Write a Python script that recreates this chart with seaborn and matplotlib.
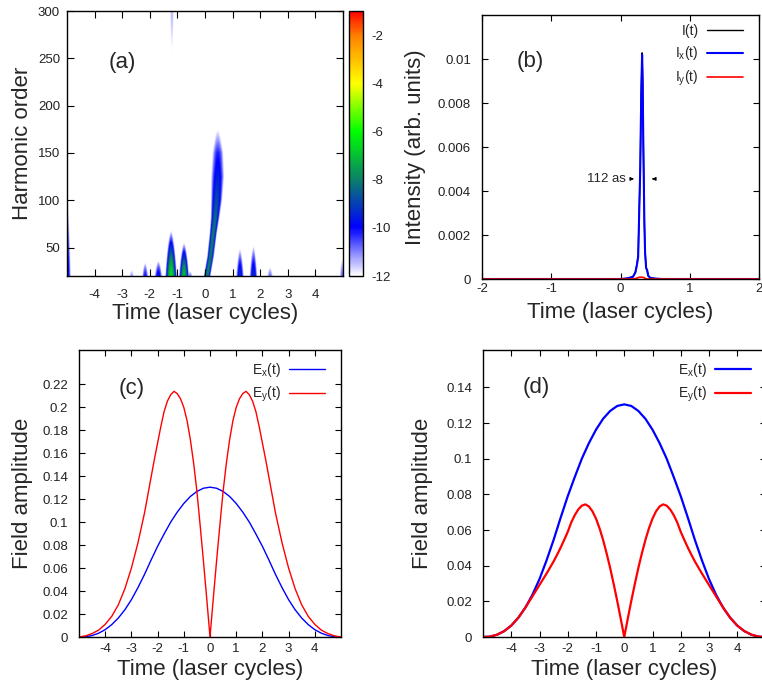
import numpy as np
import matplotlib
matplotlib.use('Agg')
import matplotlib.pyplot as plt
import seaborn as sns
from matplotlib.colors import LinearSegmentedColormap
from matplotlib.ticker import FuncFormatter

# ---- panel (a): time-frequency map, bursts
burst_t = [-5.0, -2.66, -2.17, -1.69, -1.23, -0.76, -0.54, 1.27, 1.76, 2.36, 4.98]
burst_top = [100, 26, 34, 36, 68, 55, 25, 49, 52, 29, 38]
burst_peak = [-9.5, -11.2, -10.1, -9.7, -6.5, -7.0, -11.0, -9.3, -9.3, -10.9, -10.8]
burst_w = [0.14, 0.10, 0.12, 0.15, 0.22, 0.19, 0.10, 0.15, 0.15, 0.12, 0.10]

# main slanted streak (centre path, log intensity, half width)
main_t = [0.08, 0.20, 0.30, 0.37, 0.42, 0.46, 0.47, 0.46]
main_h = [20, 40, 65, 82, 100, 125, 150, 175]
main_v = [-7.8, -8.0, -8.0, -8.3, -8.8, -9.5, -10.2, -12.0]
main_w = [0.13, 0.13, 0.14, 0.17, 0.22, 0.26, 0.22, 0.10]

# faint trace hanging from the top edge
top_t, top_base, top_tip, top_peak, top_w = -1.2, 300, 255, -11.4, 0.09

a_xticks = [-4, -3, -2, -1, 0, 1, 2, 3, 4]
a_yticks = [50, 100, 150, 200, 250, 300]
cb_ticks = [-12, -10, -8, -6, -4, -2]

# ---- panel (b): attosecond pulse intensity
b_time = [-2.0, 0.0, 0.10, 0.18, 0.215, 0.235, 0.255, 0.27, 0.285, 0.30, 0.312, 0.32,
          0.33, 0.345, 0.355, 0.37, 0.385, 0.40, 0.43, 0.50, 0.60, 2.0]
b_ix = [0, 0, 0.00003, 0.0001, 0.0003, 0.0006, 0.0010, 0.0030, 0.0050, 0.0085, 0.0102, 0.0090,
        0.0060, 0.0025, 0.0012, 0.0005, 0.0004, 0.00015, 0.00005, 0.00002, 0, 0]
b_iy = [0, 0, 0, 0, 0.00002, 0.00004, 0.00006, 0.00008, 0.00008, 0.00008, 0.00008, 0.00008,
        0.00007, 0.00005, 0.00003, 0.00001, 0, 0, 0, 0, 0, 0]
b_itot = [0, 0, 0.00003, 0.0001, 0.00032, 0.00064, 0.00106, 0.00308, 0.00508, 0.00858, 0.01028, 0.00908,
          0.00607, 0.00255, 0.00123, 0.00051, 0.0004, 0.00015, 0.00005, 0.00002, 0, 0]
b_xticks = [-2, -1, 0, 1, 2]
b_yticks = [0, 0.002, 0.004, 0.006, 0.008, 0.01]

# ---- panels (c) and (d): field envelopes
ex_t = [-5.0, -4.75, -4.5, -4.25, -4.0, -3.75, -3.5, -3.25, -3.0, -2.75, -2.5, -2.25, -2.0,
        -1.75, -1.5, -1.25, -1.0, -0.75, -0.5, -0.25, 0.0, 0.25, 0.5, 0.75, 1.0, 1.25, 1.5,
        1.75, 2.0, 2.25, 2.5, 2.75, 3.0, 3.25, 3.5, 3.75, 4.0, 4.25, 4.5, 4.75, 5.0]
ex_vals = [0.0, 0.0002, 0.0013, 0.0033, 0.0064, 0.0108, 0.0165, 0.0237, 0.0325, 0.0430, 0.0545,
           0.0670, 0.0790, 0.0898, 0.1001, 0.1088, 0.1163, 0.1224, 0.1268, 0.1296, 0.1305,
           0.1296, 0.1268, 0.1224, 0.1163, 0.1088, 0.1001, 0.0898, 0.0790, 0.0670, 0.0545,
           0.0430, 0.0325, 0.0237, 0.0165, 0.0108, 0.0064, 0.0033, 0.0013, 0.0002, 0.0]

ey_t = [-5.0, -4.75, -4.5, -4.25, -4.0, -3.75, -3.5, -3.25, -3.0, -2.75, -2.5, -2.375, -2.25,
        -2.125, -2.0, -1.875, -1.75, -1.625, -1.5, -1.375, -1.25, -1.125, -1.0, -0.875, -0.75,
        -0.625, -0.5, -0.375, -0.25, -0.125, 0.0, 0.125, 0.25, 0.375, 0.5, 0.625, 0.75, 0.875,
        1.0, 1.125, 1.25, 1.375, 1.5, 1.625, 1.75, 1.875, 2.0, 2.125, 2.25, 2.375, 2.5, 2.75,
        3.0, 3.25, 3.5, 3.75, 4.0, 4.25, 4.5, 4.75, 5.0]
ey_c = [0.0, 0.001, 0.003, 0.006, 0.011, 0.018, 0.028, 0.042, 0.060, 0.082, 0.108, 0.1235, 0.139,
        0.1545, 0.169, 0.1835, 0.1965, 0.2055, 0.211, 0.214, 0.212, 0.2075, 0.200, 0.1885, 0.172,
        0.1515, 0.127, 0.097, 0.066, 0.0335, 0.0, 0.0335, 0.066, 0.097, 0.127, 0.1515, 0.172,
        0.1885, 0.200, 0.2075, 0.212, 0.214, 0.211, 0.2055, 0.1965, 0.1835, 0.169, 0.1545, 0.139,
        0.1235, 0.108, 0.082, 0.060, 0.042, 0.028, 0.018, 0.011, 0.006, 0.003, 0.001, 0.0]
ey_d = [0.0, 0.0002, 0.0013, 0.0033, 0.0064, 0.0108, 0.0165, 0.0228, 0.0292, 0.0356, 0.0424,
        0.0462, 0.0502, 0.0545, 0.0590, 0.0643, 0.0684, 0.0716, 0.0737, 0.0744, 0.0732, 0.0705,
        0.0664, 0.0610, 0.0545, 0.0470, 0.0388, 0.0298, 0.0203, 0.0103, 0.0, 0.0103, 0.0203,
        0.0298, 0.0388, 0.0470, 0.0545, 0.0610, 0.0664, 0.0705, 0.0732, 0.0744, 0.0737, 0.0716,
        0.0684, 0.0643, 0.0590, 0.0545, 0.0502, 0.0462, 0.0424, 0.0356, 0.0292, 0.0228, 0.0165,
        0.0108, 0.0064, 0.0033, 0.0013, 0.0002, 0.0]
t_ticks = [-4, -3, -2, -1, 0, 1, 2, 3, 4]
c_yticks = [0, 0.02, 0.04, 0.06, 0.08, 0.1, 0.12, 0.14, 0.16, 0.18, 0.2, 0.22]
d_yticks = [0, 0.02, 0.04, 0.06, 0.08, 0.1, 0.12, 0.14]

sns.set_theme(style='ticks')
plt.rcParams['font.family'] = ['Liberation Sans', 'DejaVu Sans']
plt.rcParams['mathtext.default'] = 'regular'
plt.rcParams['axes.unicode_minus'] = False

W, H = 762, 690
fig = plt.figure(figsize=(W / 100, H / 100), dpi=100)
fig.patch.set_facecolor('white')


def box(l, t, w, h):
    return [l / W, 1 - (t + h) / H, w / W, h / H]


fmt = FuncFormatter(lambda v, p: f"{v:g}")
TICK = 9.5
LAB = 16


def style(ax, xpad, ypad, tlen=4):
    ax.set_facecolor('white')
    for s in ax.spines.values():
        s.set_color('black')
        s.set_linewidth(1.0)
    ax.tick_params(direction='in', top=True, right=True, length=tlen, width=0.8,
                   labelsize=TICK, colors='black', labelcolor='#222222')
    ax.tick_params(axis='x', pad=xpad)
    ax.tick_params(axis='y', pad=ypad)
    ax.xaxis.set_major_formatter(fmt)
    ax.yaxis.set_major_formatter(fmt)
    ax.grid(False)


def legend(ax, x, y):
    ax.legend(loc='upper right', bbox_to_anchor=(x, y), frameon=False, markerfirst=False,
              fontsize=10, handlelength=2.6, handletextpad=0.6, labelspacing=0.45,
              borderpad=0, borderaxespad=0)


# ---------------- (a)
tt = np.linspace(-5, 5, 601)
hh = np.linspace(20, 300, 281)
T, Hm = np.meshgrid(tt, hh)
Z = np.full(T.shape, -13.0)


def flame(tc, h0, h1, peak, w):
    frac = np.clip((Hm - h0) / (h1 - h0), 0, 1)
    v = peak + (-12 - peak) * frac ** 1.5
    half = w * np.sqrt(1 - frac) + 1e-6
    return v - (v + 12.5) * ((T - tc) / half) ** 2


for tc, top, pk, w in zip(burst_t, burst_top, burst_peak, burst_w):
    Z = np.maximum(Z, flame(tc, 20, top, pk, w))
Z = np.maximum(Z, flame(top_t, top_base, top_tip, top_peak, top_w))

mc = np.interp(hh, main_h, main_t)[:, None]
mv = np.interp(hh, main_h, main_v)[:, None]
mw = np.interp(hh, main_h, main_w)[:, None]
Z = np.maximum(Z, mv - (mv + 12.5) * ((T - mc) / mw) ** 2)

cmap = LinearSegmentedColormap.from_list('hhg', [
    (0.0, '#ffffff'), (2 / 11, '#0000ff'), (4 / 11, '#0b7f6a'), (6 / 11, '#00ff00'),
    (8 / 11, '#ffff00'), (10 / 11, '#ff8000'), (1.0, '#ff0000')])
cmap.set_under('white')

ax_a = fig.add_axes(box(67, 11, 276, 265))
im = ax_a.imshow(Z, extent=[-5, 5, 20, 300], origin='lower', aspect='auto',
                 cmap=cmap, vmin=-12, vmax=-1, interpolation='bilinear')
ax_a.set_xlim(-5, 5)
ax_a.set_ylim(20, 300)
ax_a.set_xticks(a_xticks)
ax_a.set_yticks(a_yticks)
style(ax_a, xpad=9, ypad=5, tlen=5)
ax_a.set_xlabel('Time (laser cycles)', fontsize=LAB)
ax_a.set_ylabel('Harmonic order', fontsize=LAB)
ax_a.xaxis.set_label_coords(0.5, -0.1)
ax_a.yaxis.set_label_coords(-0.123, 0.5)
ax_a.text(-3.0, 246, '(a)', fontsize=LAB, ha='center', va='center')

cax = fig.add_axes(box(349, 11, 14, 265))
cb = fig.colorbar(im, cax=cax)
cb.set_ticks(cb_ticks)
cb.ax.yaxis.set_major_formatter(fmt)
cb.outline.set_edgecolor('black')
cb.outline.set_linewidth(1.0)
cax.tick_params(direction='in', left=True, right=True, length=5, width=0.8,
                labelsize=TICK, pad=6, colors='black', labelcolor='#222222')

# ---------------- (b)
ax_b = fig.add_axes(box(482, 15, 277, 264))
sns.lineplot(x=b_time, y=b_itot, color='black', lw=1.0, label='I(t)', ax=ax_b)
sns.lineplot(x=b_time, y=b_ix, color='#0000ff', lw=1.5, label='I$_x$(t)', ax=ax_b)
sns.lineplot(x=b_time, y=b_iy, color='#ff0000', lw=1.2, label='I$_y$(t)', ax=ax_b)
ax_b.set_xlim(-2, 2)
ax_b.set_ylim(0, 0.012)
ax_b.set_xticks(b_xticks)
ax_b.set_yticks(b_yticks)
style(ax_b, xpad=3, ypad=8)
ax_b.set_xlabel('Time (laser cycles)', fontsize=LAB)
ax_b.set_ylabel('Intensity (arb. units)', fontsize=LAB)
ax_b.xaxis.set_label_coords(0.5, -0.087)
ax_b.yaxis.set_label_coords(-0.202, 0.5)
ax_b.text(-1.31, 0.0099, '(b)', fontsize=LAB, ha='center', va='center')
ax_b.text(0.08, 0.00455, '112 as', fontsize=9.5, ha='right', va='center')
ax_b.annotate('', xy=(0.235, 0.00455), xytext=(0.12, 0.00455),
              arrowprops=dict(arrowstyle='-|>', color='black', lw=0.8, mutation_scale=5))
ax_b.annotate('', xy=(0.415, 0.00455), xytext=(0.52, 0.00455),
              arrowprops=dict(arrowstyle='-|>', color='black', lw=0.8, mutation_scale=5))
legend(ax_b, 0.942, 0.965)

# ---------------- (c)
ax_c = fig.add_axes(box(79, 350, 262, 287))
sns.lineplot(x=ex_t, y=ex_vals, color='#0000ff', lw=1.0, label='E$_x$(t)', ax=ax_c)
sns.lineplot(x=ey_t, y=ey_c, color='#ff0000', lw=1.0, label='E$_y$(t)', ax=ax_c)
ax_c.set_xlim(-5, 5)
ax_c.set_ylim(0, 0.25)
ax_c.set_xticks(t_ticks)
ax_c.set_yticks(c_yticks)
style(ax_c, xpad=4, ypad=8)
ax_c.set_xlabel('Time (laser cycles)', fontsize=LAB)
ax_c.set_ylabel('Field amplitude', fontsize=LAB)
ax_c.xaxis.set_label_coords(0.5, -0.077)
ax_c.yaxis.set_label_coords(-0.176, 0.5)
ax_c.text(-2.98, 0.2167, '(c)', fontsize=LAB, ha='center', va='center')
legend(ax_c, 0.939, 0.962)

# ---------------- (d)
ax_d = fig.add_axes(box(483, 350, 282.5, 287))
sns.lineplot(x=ex_t, y=ex_vals, color='#0000ff', lw=1.6, label='E$_x$(t)', ax=ax_d)
sns.lineplot(x=ey_t, y=ey_d, color='#ff0000', lw=1.6, label='E$_y$(t)', ax=ax_d)
ax_d.set_xlim(-5, 5)
ax_d.set_ylim(0, 0.161)
ax_d.set_xticks(t_ticks)
ax_d.set_yticks(d_yticks)
style(ax_d, xpad=4, ypad=8)
ax_d.set_xlabel('Time (laser cycles)', fontsize=LAB)
ax_d.set_ylabel('Field amplitude', fontsize=LAB)
ax_d.xaxis.set_label_coords(0.5, -0.077)
ax_d.yaxis.set_label_coords(-0.177, 0.5)
ax_d.text(-3.1, 0.140, '(d)', fontsize=LAB, ha='center', va='center')
legend(ax_d, 0.949, 0.962)

fig.savefig('out.png', dpi=100, facecolor='white')
